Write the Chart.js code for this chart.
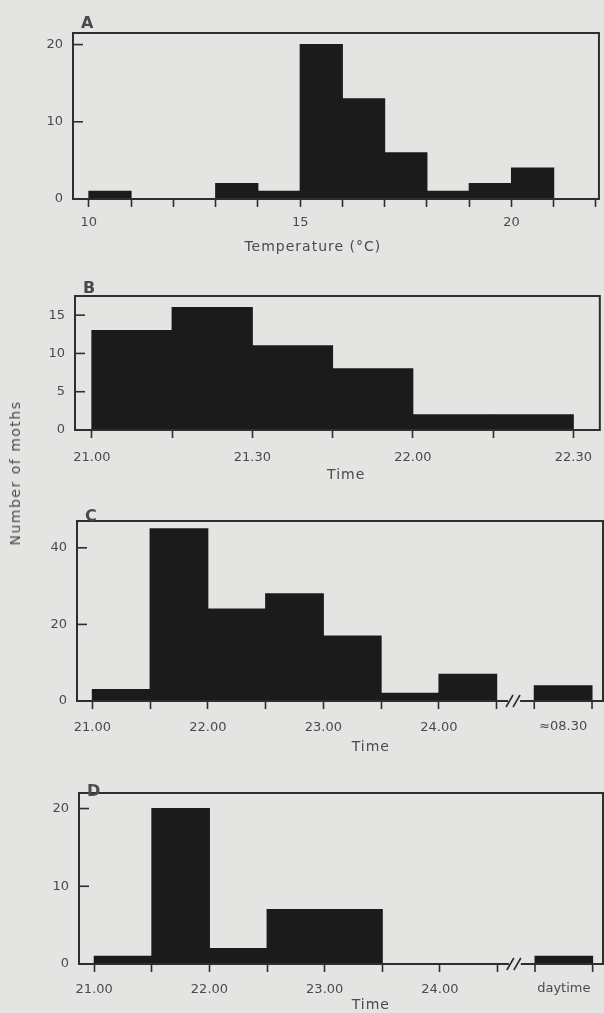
<!DOCTYPE html>
<html>
<head>
<meta charset="utf-8">
<title>Number of moths</title>
<script src="https://cdn.jsdelivr.net/npm/chart.js@4.4.0/dist/chart.umd.min.js"></script>
<style>
  html, body { margin: 0; padding: 0; background: #e4e4e2; }
  body { width: 604px; height: 1013px; position: relative; overflow: hidden; font-family: "DejaVu Sans", sans-serif; }
  .panel { position: absolute; left: 0; width: 604px; }
  #yTitle {
    position: absolute; left: 15px; top: 473px;
    transform: translate(-50%, -50%) rotate(-90deg);
    font-size: 14px; letter-spacing: 1.5px; color: #4a4a4a; white-space: nowrap;
  }
</style>
</head>
<body>
<div class="panel" style="top:0;height:258px"><canvas id="chartA"></canvas></div>
<div class="panel" style="top:258px;height:232px"><canvas id="chartB"></canvas></div>
<div class="panel" style="top:490px;height:270px"><canvas id="chartC"></canvas></div>
<div class="panel" style="top:760px;height:253px"><canvas id="chartD"></canvas></div>
<div id="yTitle">Number of moths</div>

<script>
// A: moths per 1 °C temperature class (class start values)
const tempClasses = [10, 11, 12, 13, 14, 15, 16, 17, 18, 19, 20];
const mothsByTemp = [1, 0, 0, 2, 1, 20, 13, 6, 1, 2, 4];
const tempTicks = [10, 11, 12, 13, 14, 15, 16, 17, 18, 19, 20, 21, 22];
const tempTickLabels = ['10', '', '', '', '', '15', '', '', '', '', '20', '', ''];

// B: 15 minute classes
const timeClassesB = ['21.00', '21.15', '21.30', '21.45', '22.00', '22.15'];
const mothsB = [13, 16, 11, 8, 2, 2];
const timeTickLabelsB = ['21.00', '', '21.30', '', '22.00', '', '22.30'];

// C and D: 30 minute classes, then axis break and one late class
const timeClassesCD = ['21.00', '21.30', '22.00', '22.30', '23.00', '23.30', '24.00'];
const timeTickLabelsCD = ['21.00', '', '22.00', '', '23.00', '', '24.00', ''];
const mothsC = [3, 45, 24, 28, 17, 2, 7];
const lateLabelC = '≈08.30';
const lateMothsC = 4;
const mothsD = [1, 20, 2, 7, 7, 0, 0];
const lateLabelD = 'daytime';
const lateMothsD = 1;

const yTicksA = [0, 10, 20];
const yTicksB = [0, 5, 10, 15];
const yTicksC = [0, 20, 40];
const yTicksD = [0, 10, 20];

const BG = '#e4e4e2';
const INK = '#1b1b1b';
const LINE = '#2e2e2e';
const TEXT = '#4a4a4a';
const BREAK_AT = 7.3;     // where the time axis is cut
const LATE_START = 7.65;  // start of the late class after the cut

Chart.defaults.font.family = '"DejaVu Sans", sans-serif';
Chart.defaults.font.size = 13;
Chart.defaults.color = TEXT;

// box, inward y ticks, axis break + late class, panel letter and x title
const framePlugin = {
  id: 'frame',
  afterDraw(chart, args, opts) {
    const { ctx, chartArea: a, scales } = chart;
    ctx.save();
    ctx.strokeStyle = LINE;
    ctx.lineWidth = 2;
    ctx.strokeRect(a.left, a.top, a.right - a.left, a.bottom - a.top);

    ctx.lineWidth = 1.6;
    scales.y.ticks.forEach((t, i) => {
      if (t.value === 0) return;
      const y = scales.y.getPixelForTick(i);
      ctx.beginPath();
      ctx.moveTo(a.left, y);
      ctx.lineTo(a.left + 10, y);
      ctx.stroke();
    });

    ctx.fillStyle = TEXT;
    if (opts.breakAt != null) {
      const x = scales.x.getPixelForValue(opts.breakAt);
      ctx.fillStyle = BG;
      ctx.fillRect(x - 6, a.bottom - 2, 12, 4);
      ctx.beginPath();
      ctx.moveTo(x - 8, a.bottom + 6); ctx.lineTo(x - 1, a.bottom - 6);
      ctx.moveTo(x - 1, a.bottom + 6); ctx.lineTo(x + 6, a.bottom - 6);
      // ticks at both edges of the late class
      [opts.lateStart, opts.lateStart + 1].forEach(v => {
        const tx = scales.x.getPixelForValue(v);
        ctx.moveTo(tx, a.bottom);
        ctx.lineTo(tx, a.bottom + 8);
      });
      ctx.stroke();
      ctx.fillStyle = TEXT;
      ctx.font = '13px "DejaVu Sans"';
      ctx.textAlign = 'center';
      ctx.textBaseline = 'top';
      ctx.fillText(opts.lateLabel, scales.x.getPixelForValue(opts.lateStart + 0.5), a.bottom + 8 + opts.labelPad);
    }

    ctx.textAlign = 'left';
    ctx.textBaseline = 'alphabetic';
    ctx.font = 'bold 16px "DejaVu Sans"';
    ctx.fillText(opts.letter, a.left + 8, a.top + opts.letterDy);

    ctx.font = '14px "DejaVu Sans"';
    ctx.letterSpacing = '1px';
    ctx.textAlign = 'center';
    ctx.textBaseline = 'middle';
    ctx.fillText(opts.title, scales.x.getPixelForValue(opts.titleAt), a.bottom + opts.titleDy);
    ctx.restore();
  }
};

function makeChart(id, p) {
  const xTicks = p.xTicks;
  return new Chart(document.getElementById(id), {
    type: 'bar',
    data: {
      datasets: [{
        data: p.points,
        backgroundColor: INK,
        borderWidth: 0,
        barPercentage: 1,
        categoryPercentage: 1,
        inflateAmount: 0.5
      }]
    },
    options: {
      responsive: true,
      maintainAspectRatio: false,
      animation: false,
      events: [],
      layout: { padding: { top: p.padTop, right: 1, bottom: 0, left: 0 } },
      plugins: {
        legend: { display: false },
        tooltip: { enabled: false },
        frame: {
          letter: p.letter, letterDy: p.letterDy, title: p.title, titleAt: p.titleAt, titleDy: p.titleDy,
          breakAt: p.breakAt, lateStart: LATE_START, lateLabel: p.lateLabel, labelPad: p.labelPad
        }
      },
      scales: {
        x: {
          type: 'linear',
          min: p.xMin,
          max: p.xMax,
          offset: false,
          border: { display: false },
          grid: {
            offset: false,
            drawOnChartArea: false,
            drawTicks: true,
            tickLength: 8,
            tickWidth: 1.6,
            tickColor: LINE
          },
          ticks: {
            autoSkip: false, maxRotation: 0, minRotation: 0, padding: p.labelPad,
            callback: (v, i) => xTicks[i].label
          },
          afterBuildTicks: s => { s.ticks = xTicks.map(t => ({ value: t.value })); },
          afterFit: s => { s.height = p.xHeight; }
        },
        y: {
          min: 0,
          max: p.yMax,
          border: { display: false },
          grid: { display: false, drawTicks: false },
          ticks: { padding: 10 },
          afterBuildTicks: s => { s.ticks = p.yTicks.map(v => ({ value: v })); },
          afterFit: s => { s.width = p.yWidth; }
        }
      }
    },
    plugins: [framePlugin]
  });
}

const timeTicksCD = timeTickLabelsCD.map((label, i) => ({ value: i, label: label }));

makeChart('chartA', {
  points: tempClasses.map((c, i) => ({ x: c + 0.5, y: mothsByTemp[i] })),
  xTicks: tempTicks.map((v, i) => ({ value: v, label: tempTickLabels[i] })),
  xMin: 9.625, xMax: 22.07, yMax: 21.5, yTicks: yTicksA,
  padTop: 33, xHeight: 59, yWidth: 73, labelPad: 8,
  letter: 'A', letterDy: -5, title: 'Temperature (°C)', titleAt: 15.3, titleDy: 48
});

makeChart('chartB', {
  points: timeClassesB.map((c, i) => ({ x: i + 0.5, y: mothsB[i] })),
  xTicks: timeTickLabelsB.map((label, i) => ({ value: i, label: label })),
  xMin: -0.21, xMax: 6.33, yMax: 17.5, yTicks: yTicksB,
  padTop: 38, xHeight: 60, yWidth: 75, labelPad: 12,
  letter: 'B', letterDy: -3, title: 'Time', titleAt: 3.17, titleDy: 45
});

makeChart('chartC', {
  points: timeClassesCD.map((c, i) => ({ x: i + 0.5, y: mothsC[i] }))
    .concat([{ x: LATE_START + 0.5, y: lateMothsC }]),
  xTicks: timeTicksCD,
  xMin: -0.265, xMax: 8.84, yMax: 47, yTicks: yTicksC,
  padTop: 31, xHeight: 59, yWidth: 77, labelPad: 11,
  letter: 'C', letterDy: 0, title: 'Time', titleAt: 4.82, titleDy: 46,
  breakAt: BREAK_AT, lateLabel: lateLabelC
});

makeChart('chartD', {
  points: timeClassesCD.map((c, i) => ({ x: i + 0.5, y: mothsD[i] }))
    .concat([{ x: LATE_START + 0.5, y: lateMothsD }]),
  xTicks: timeTicksCD,
  xMin: -0.264, xMax: 8.83, yMax: 22, yTicks: yTicksD,
  padTop: 33, xHeight: 49, yWidth: 79, labelPad: 10,
  letter: 'D', letterDy: 3, title: 'Time', titleAt: 4.8, titleDy: 41,
  breakAt: BREAK_AT, lateLabel: lateLabelD
});
</script>
</body>
</html>
